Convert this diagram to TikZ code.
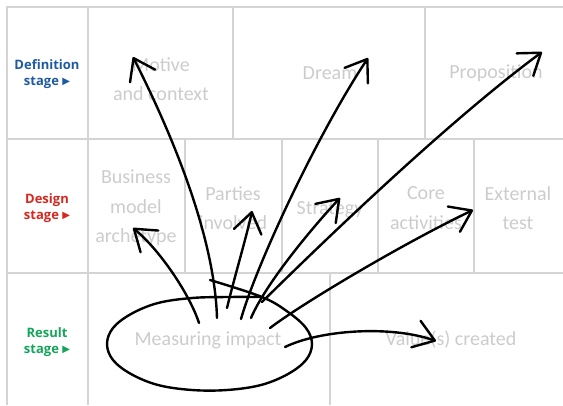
\documentclass[tikz,border=0pt]{standalone}
\usepackage{fontspec}
\newfontfamily\stagefont{Open Sans}
\newfontfamily\cellfont{Carlito}
\newfontfamily\trifont{DejaVu Sans}
\usetikzlibrary{arrows.meta}
\definecolor{gridgray}{RGB}{212,212,212}
\definecolor{txtgray}{RGB}{204,204,204}
\definecolor{defblue}{RGB}{30,90,160}
\definecolor{desred}{RGB}{212,40,32}
\definecolor{resgreen}{RGB}{20,165,90}
\newcommand{\stagetri}{\raisebox{0.6pt}{\trifont\fontsize{10}{10}\selectfont ▶}}

\begin{document}
\begin{tikzpicture}[x=1pt,y=-1pt,
  gridline/.style={draw=gridgray,line width=2.6pt},
  stagelbl/.style={font=\stagefont\bfseries\fontsize{13}{16}\selectfont,align=center},
  cell/.style={font=\cellfont\fontsize{20}{29.5}\selectfont,text=txtgray,align=center},
  sketch/.style={line width=2.4pt,line cap=round,line join=round},
  >={Straight Barb[length=20pt,width=28pt,round]}]
\useasboundingbox (0,0) rectangle (563,405);
% grid of the stages
\draw[gridline] (7,405) -- (7,7) -- (563,7);
\draw[gridline] (7,139) -- (563,139);
\draw[gridline] (7,273) -- (563,273);
\draw[gridline] (88,7) -- (88,405);
\foreach \x in {233,425} \draw[gridline] (\x,7) -- (\x,139);
\foreach \x in {185,282,378,474} \draw[gridline] (\x,139) -- (\x,273);
\draw[gridline] (330,273) -- (330,405);
% stage labels
\node[stagelbl,text=defblue] (defstage) at (47,74) {Definition\\stage \stagetri};
\node[stagelbl,text=desred] (desstage) at (47,208) {Design\\stage \stagetri};
\node[stagelbl,text=resgreen] (resstage) at (47,342) {Result\\stage \stagetri};
% cells
\node[cell] (motive) at (161,79) {Motive\\and context};
\node[cell] (dream) at (330,73) {Dream};
\node[cell] (prop) at (496,73) {Proposition};
\node[cell] (archetype) at (136,208) {Business\\model\\archetype};
\node[cell] (parties) at (233,208) {Parties\\involved};
\node[cell] (strategy) at (330,210) {Strategy};
\node[cell] (core) at (426,208) {Core\\activities};
\node[cell] (external) at (518,208) {External\\test};
\node[cell] (impact) at (208,340) {Measuring impact};
\node[cell] (value) at (451,340) {Value(s) created};
% sketched loop round the impact
\draw[sketch] plot[smooth,tension=0.6] coordinates {(210,280) (262,297) (288,312)
  (306,328) (312,344) (306,360) (288,374) (261,385) (227,390) (192,390) (158,385)
  (131,374) (113,360) (107,344) (113,328) (131,314) (158,303) (192,298) (227,297)
  (260,297)};
% start and end points of the arrows
\coordinate (sMotive) at (217,318);   \coordinate (tMotive) at (133,57);
\coordinate (sArch) at (199,323);     \coordinate (tArch) at (133,228);
\coordinate (sParties) at (227,308);  \coordinate (tParties) at (252,211);
\coordinate (sDream) at (241,319);    \coordinate (tDream) at (368,58);
\coordinate (sStrategy) at (251,318); \coordinate (tStrategy) at (340,198);
\coordinate (sProp) at (262,302);     \coordinate (tProp) at (542,52);
\coordinate (sCore) at (270,328);     \coordinate (tCore) at (473,210);
\coordinate (sValue) at (285,347);    \coordinate (tValue) at (436,341);
\draw[sketch,->] (sMotive) .. controls (215,250) and (185,160) .. (tMotive);
\draw[sketch,->] (sArch) .. controls (190,295) and (160,250) .. (tArch);
\draw[sketch,->] (sParties) .. controls (235,275) and (247,235) .. (tParties);
\draw[sketch,->] (sDream) .. controls (258,260) and (320,130) .. (tDream);
\draw[sketch,->] (sStrategy) .. controls (265,285) and (310,230) .. (tStrategy);
\draw[sketch,->] (sProp) .. controls (330,235) and (450,120) .. (tProp);
\draw[sketch,->] (sCore) .. controls (300,305) and (400,245) .. (tCore);
\draw[sketch,->] (sValue) .. controls (320,330) and (390,325) .. (tValue);
\end{tikzpicture}
\end{document}
